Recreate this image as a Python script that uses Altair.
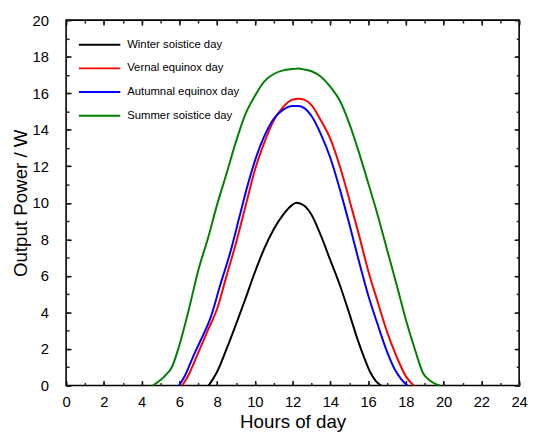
import altair as alt
import pandas as pd

series_names = ["Winter soistice day", "Vernal equinox day", "Autumnal equinox day", "Summer soistice day"]
series_colors = ["#000000", "#FF0000", "#0000FF", "#008000"]

winter_x = [7.55, 8.0, 8.5, 9.0, 9.5, 10.0, 10.5, 11.0, 11.5, 12.0, 12.2, 12.6, 13.0, 13.5, 14.0, 14.5, 15.0, 15.4, 15.8, 16.1, 16.4, 16.68]
winter_y = [0.0, 0.75, 2.0, 3.35, 4.75, 6.2, 7.5, 8.55, 9.35, 9.9, 10.0, 9.85, 9.35, 8.2, 6.85, 5.5, 3.95, 2.65, 1.5, 0.75, 0.25, 0.0]

vernal_x = [6.15, 6.5, 7.0, 7.5, 8.0, 8.5, 9.0, 9.5, 10.0, 10.5, 11.0, 11.5, 12.0, 12.3, 12.6, 13.0, 13.5, 14.0, 14.5, 15.0, 15.5, 16.0, 16.5, 17.0, 17.5, 18.0, 18.41]
vernal_y = [0.0, 0.6, 1.8, 3.0, 4.2, 6.0, 7.8, 9.8, 11.8, 13.3, 14.5, 15.25, 15.65, 15.7, 15.65, 15.35, 14.5, 13.5, 12.0, 10.2, 8.3, 6.3, 4.6, 2.95, 1.6, 0.5, 0.0]

autumn_x = [5.98, 6.3, 6.8, 7.3, 7.65, 8.15, 8.7, 9.2, 9.6, 10.1, 10.5, 11.0, 11.5, 12.0, 12.3, 12.6, 13.0, 13.5, 14.0, 14.5, 15.0, 15.5, 16.0, 16.5, 17.0, 17.4, 17.75, 18.07]
autumn_y = [0.0, 0.55, 1.75, 2.85, 3.7, 5.45, 7.3, 9.3, 10.9, 12.6, 13.65, 14.6, 15.1, 15.3, 15.3, 15.2, 14.75, 13.75, 12.45, 10.75, 8.85, 6.85, 4.95, 3.35, 1.85, 0.9, 0.35, 0.0]

summer_x = [4.59, 5.0, 5.3, 5.6, 6.0, 6.5, 7.0, 7.5, 8.0, 8.5, 9.0, 9.5, 10.0, 10.5, 11.0, 11.5, 12.0, 12.3, 12.6, 13.0, 13.5, 14.0, 14.5, 15.0, 15.5, 16.0, 16.5, 17.0, 17.5, 18.0, 18.5, 18.9, 19.3, 19.8]
summer_y = [0.0, 0.3, 0.6, 1.0, 2.2, 4.15, 6.3, 8.0, 9.9, 11.6, 13.35, 14.85, 15.85, 16.65, 17.05, 17.25, 17.32, 17.35, 17.3, 17.2, 16.9, 16.35, 15.6, 14.35, 12.8, 11.1, 9.35, 7.45, 5.55, 3.6, 1.9, 0.7, 0.25, 0.0]

x_major = list(range(0, 25, 2))
x_minor = list(range(0, 25, 1))
y_major = list(range(0, 21, 2))
y_minor = list(range(0, 21, 1))

rows = []
for name, xs, ys in zip(series_names,
                        [winter_x, vernal_x, autumn_x, summer_x],
                        [winter_y, vernal_y, autumn_y, summer_y]):
    for i, (xv, yv) in enumerate(zip(xs, ys)):
        rows.append({"series": name, "hour": xv, "power": yv, "order": i})
df = pd.DataFrame(rows)

FONT = "Liberation Sans"
xscale = alt.Scale(domain=[0, 24], nice=False, zero=False)
yscale = alt.Scale(domain=[0, 20], nice=False, zero=False)

def ax(orient, values, size, color, **kw):
    opts = dict(orient=orient, values=values, tickSize=size, offset=-size,
                domain=False, grid=False, tickColor=color, tickWidth=1.5)
    opts.update(kw)
    return alt.Axis(**opts)

main = alt.Chart(df).mark_line(interpolate="monotone", strokeWidth=2).encode(
    x=alt.X("hour:Q", scale=xscale,
            axis=ax("bottom", x_major, 5, "black", title="Hours of day",
                    labelFont=FONT, labelFontSize=15, labelColor="black",
                    labelFlush=False, labelOverlap=False,
                    labelPadding=9, titleFont=FONT, titleFontSize=19,
                    titleFontWeight="normal", titleColor="black", titlePadding=4)),
    y=alt.Y("power:Q", scale=yscale,
            axis=ax("left", y_major, 5, "black", title="Output Power / W",
                    labelFont=FONT, labelFontSize=15, labelColor="black",
                    labelFlush=False, labelOverlap=False,
                    labelPadding=18, titleFont=FONT, titleFontSize=19,
                    titleFontWeight="normal", titleColor="black", titlePadding=2)),
    color=alt.Color("series:N",
                    scale=alt.Scale(domain=series_names, range=series_colors),
                    legend=alt.Legend(orient="none", legendX=26, legendY=17,
                                      title=None, symbolType="M-3,0H3",
                                      symbolSize=196, symbolStrokeWidth=2,
                                      labelFont=FONT, labelFontSize=11.5,
                                      labelColor="black", labelOffset=20,
                                      rowPadding=10, padding=0)),
    order="order:Q",
)

def axis_layer(xa, ya):
    return alt.Chart(df).mark_line(opacity=0).encode(
        x=alt.X("hour:Q", scale=xscale, axis=xa),
        y=alt.Y("power:Q", scale=yscale, axis=ya),
        detail="series:N",
    )

l2 = axis_layer(ax("top", x_major, 5, "black", labels=False, title=None),
                ax("right", y_major, 5, "black", labels=False, title=None))
l3 = axis_layer(ax("bottom", x_minor, 3, "#222222", labels=False, title=None),
                ax("left", y_minor, 3, "#222222", labels=False, title=None))
l4 = axis_layer(ax("top", x_minor, 3, "#222222", labels=False, title=None),
                ax("right", y_minor, 3, "#222222", labels=False, title=None))

chart = alt.layer(main, l2, l3, l4).resolve_axis(
    x="independent", y="independent"
).properties(
    width=460, height=371,
    autosize=alt.AutoSizeParams(type="none"),
    padding={"left": 59, "top": 9, "right": 9, "bottom": 50},
).configure_view(
    stroke="black", strokeWidth=1.6
)

chart.save("out.html", embed_options={"renderer": "svg", "actions": False})
